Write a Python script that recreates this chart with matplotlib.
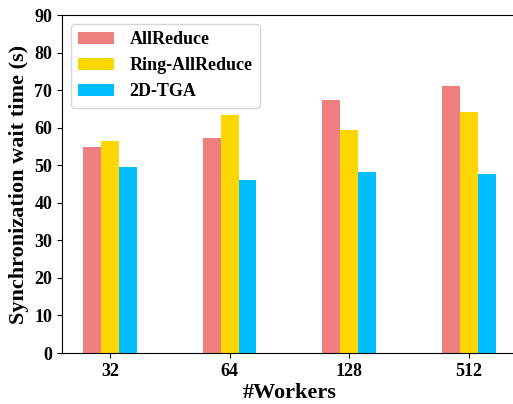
import numpy as np
import matplotlib
matplotlib.use("Agg")
import matplotlib.pyplot as plt

plt.rcParams['font.family'] = ['Liberation Serif', 'DejaVu Serif']
plt.rcParams['font.weight'] = 'bold'

workers = ['32', '64', '128', '512']
allreduce = [54.8, 57.2, 67.5, 71.0]
ring_allreduce = [56.5, 63.4, 59.5, 64.3]
tga_2d = [49.6, 46.0, 48.2, 47.6]

series = [
    ('AllReduce', allreduce, 'lightcoral'),
    ('Ring-AllReduce', ring_allreduce, 'gold'),
    ('2D-TGA', tga_2d, 'deepskyblue'),
]

fig = plt.figure(figsize=(5.13, 4.04), dpi=100)
ax = fig.add_axes([62 / 513, 1 - 353 / 404, 456 / 513, 338 / 404])

x = np.arange(len(workers))
width = 0.15
for i, (name, vals, color) in enumerate(series):
    ax.bar(x + (i - 1) * width, vals, width, color=color, label=name)

ax.set_xlim(-0.40, 3.41)
ax.set_ylim(0, 90)
ax.set_yticks(np.arange(0, 91, 10))
ax.set_xticks(x)
ax.set_xticklabels(workers)
ax.tick_params(axis='both', labelsize=13)
for lbl in ax.get_xticklabels() + ax.get_yticklabels():
    lbl.set_fontweight('bold')
ax.spines['right'].set_visible(False)

ax.set_xlabel('#Workers', fontsize=16, fontweight='bold', labelpad=2)
ax.set_ylabel('Synchronization wait time (s)', fontsize=16, fontweight='bold', labelpad=4)

leg = ax.legend(loc='upper left', prop={'weight': 'bold', 'size': 13},
                handlelength=2.0, handletextpad=0.85, borderaxespad=0.5)

fig.savefig('out.png', dpi=100)
